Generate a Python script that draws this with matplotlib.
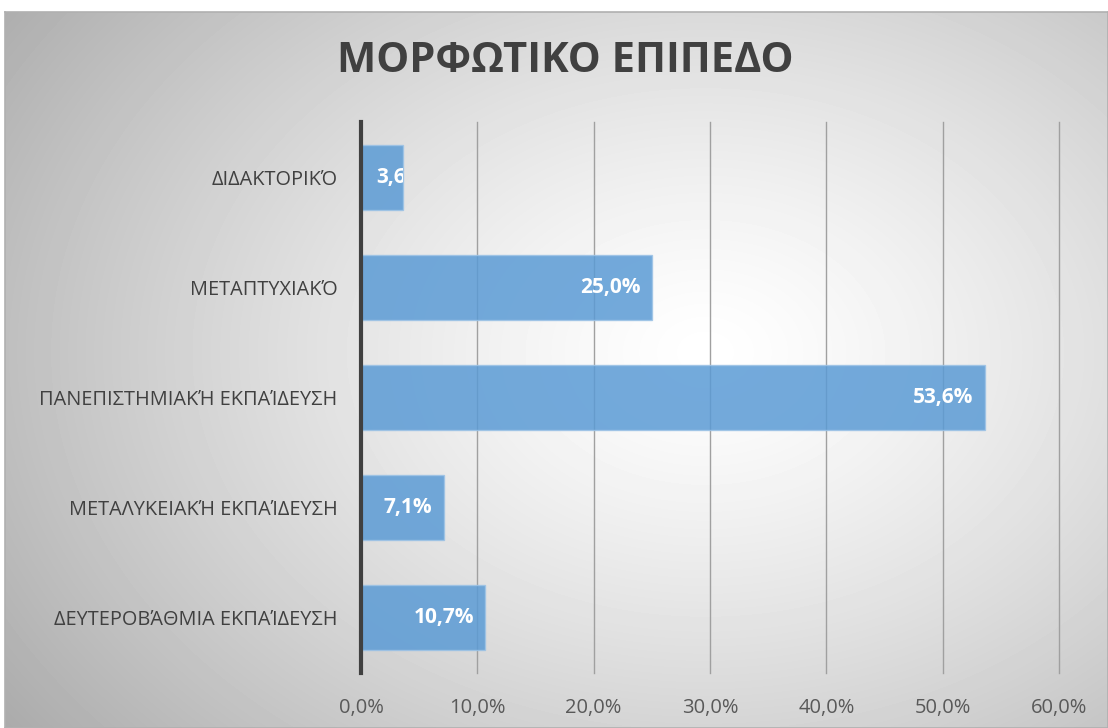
import matplotlib.pyplot as plt
import numpy as np
from matplotlib.ticker import FuncFormatter

categories = ["ΔΕΥΤΕΡΟΒΆΘΜΙΑ ΕΚΠΑΊΔΕΥΣΗ", "ΜΕΤΑΛΥΚΕΙΑΚΉ ΕΚΠΑΊΔΕΥΣΗ",
              "ΠΑΝΕΠΙΣΤΗΜΙΑΚΉ ΕΚΠΑΊΔΕΥΣΗ", "ΜΕΤΑΠΤΥΧΙΑΚΌ", "ΔΙΔΑΚΤΟΡΙΚΌ"]
values = [10.7, 7.1, 53.6, 25.0, 3.6]
title = "ΜΟΡΦΩΤΙΚΟ ΕΠΙΠΕΔΟ"

plt.rcParams["font.family"] = ["Open Sans", "DejaVu Sans"]

W, H = 1108, 728
fig = plt.figure(figsize=(W / 100, H / 100), dpi=100)
fig.patch.set_facecolor("white")

# radial gradient background of the chart area
bg = fig.add_axes([5 / W, 0, 1 - 5 / W, 1 - 12 / H])
yy, xx = np.mgrid[0:716, 0:1103]
r = np.sqrt(((xx - 700) / 760) ** 2 + ((yy - 340) / 560) ** 2)
shade = np.clip(1 - 0.28 * r ** 1.3, 0, 1)
bg.imshow(shade, cmap="gray", vmin=0, vmax=1, aspect="auto", interpolation="bilinear")
bg.set_xticks([])
bg.set_yticks([])
for s in bg.spines.values():
    s.set_color("#b0b0b0")
    s.set_linewidth(1.2)

ax = fig.add_axes([361 / W, 1 - 673 / H, (1059 - 361) / W, (673 - 122) / H])
ax.patch.set_alpha(0)
y = np.arange(len(categories))
bars = ax.barh(y, values, height=0.59, color="#5b9bd5", alpha=0.85,
               edgecolor="#9dc3e6", linewidth=1, zorder=2)

ax.set_xlim(0, 60)
ax.set_ylim(-0.5, len(categories) - 0.5)
ax.set_xticks(np.arange(0, 61, 10))
ax.xaxis.set_major_formatter(FuncFormatter(lambda v, p: f"{v:.1f}%".replace(".", ",")))
ax.set_yticks(y)
ax.set_yticklabels(categories)
ax.tick_params(axis="x", length=0, pad=18, labelsize=14.5, labelcolor="#595959")
ax.tick_params(axis="y", length=0, pad=17, labelsize=14.3, labelcolor="#404040")
ax.grid(axis="x", color="#a0a0a0", linewidth=1, zorder=1)
for gl in ax.get_xgridlines():
    gl.set_clip_on(False)
ax.set_axisbelow(True)
for side in ["top", "right", "bottom"]:
    ax.spines[side].set_visible(False)
ax.spines["left"].set_color("#404040")
ax.spines["left"].set_linewidth(3)
ax.spines["left"].set_zorder(3)

for b, v in zip(bars, values):
    lab = f"{v:.1f}%".replace(".", ",")
    cy = b.get_y() + b.get_height() / 2
    if v < 6:
        t = ax.annotate(lab, (0, cy), xytext=(11, 0), textcoords="offset points",
                        ha="left", va="center", color="white", fontsize=15,
                        fontweight="bold", zorder=4)
        t.set_clip_path(b)
    else:
        ax.annotate(lab, (v, cy), xytext=(-8, 0), textcoords="offset points",
                    ha="right", va="center", color="white", fontsize=15,
                    fontweight="bold", zorder=4)

fig.text(565 / W, 1 - 62 / H, title, ha="center", va="center",
         fontsize=30, fontweight="bold", color="#404040")

fig.savefig("out.png", dpi=100)
